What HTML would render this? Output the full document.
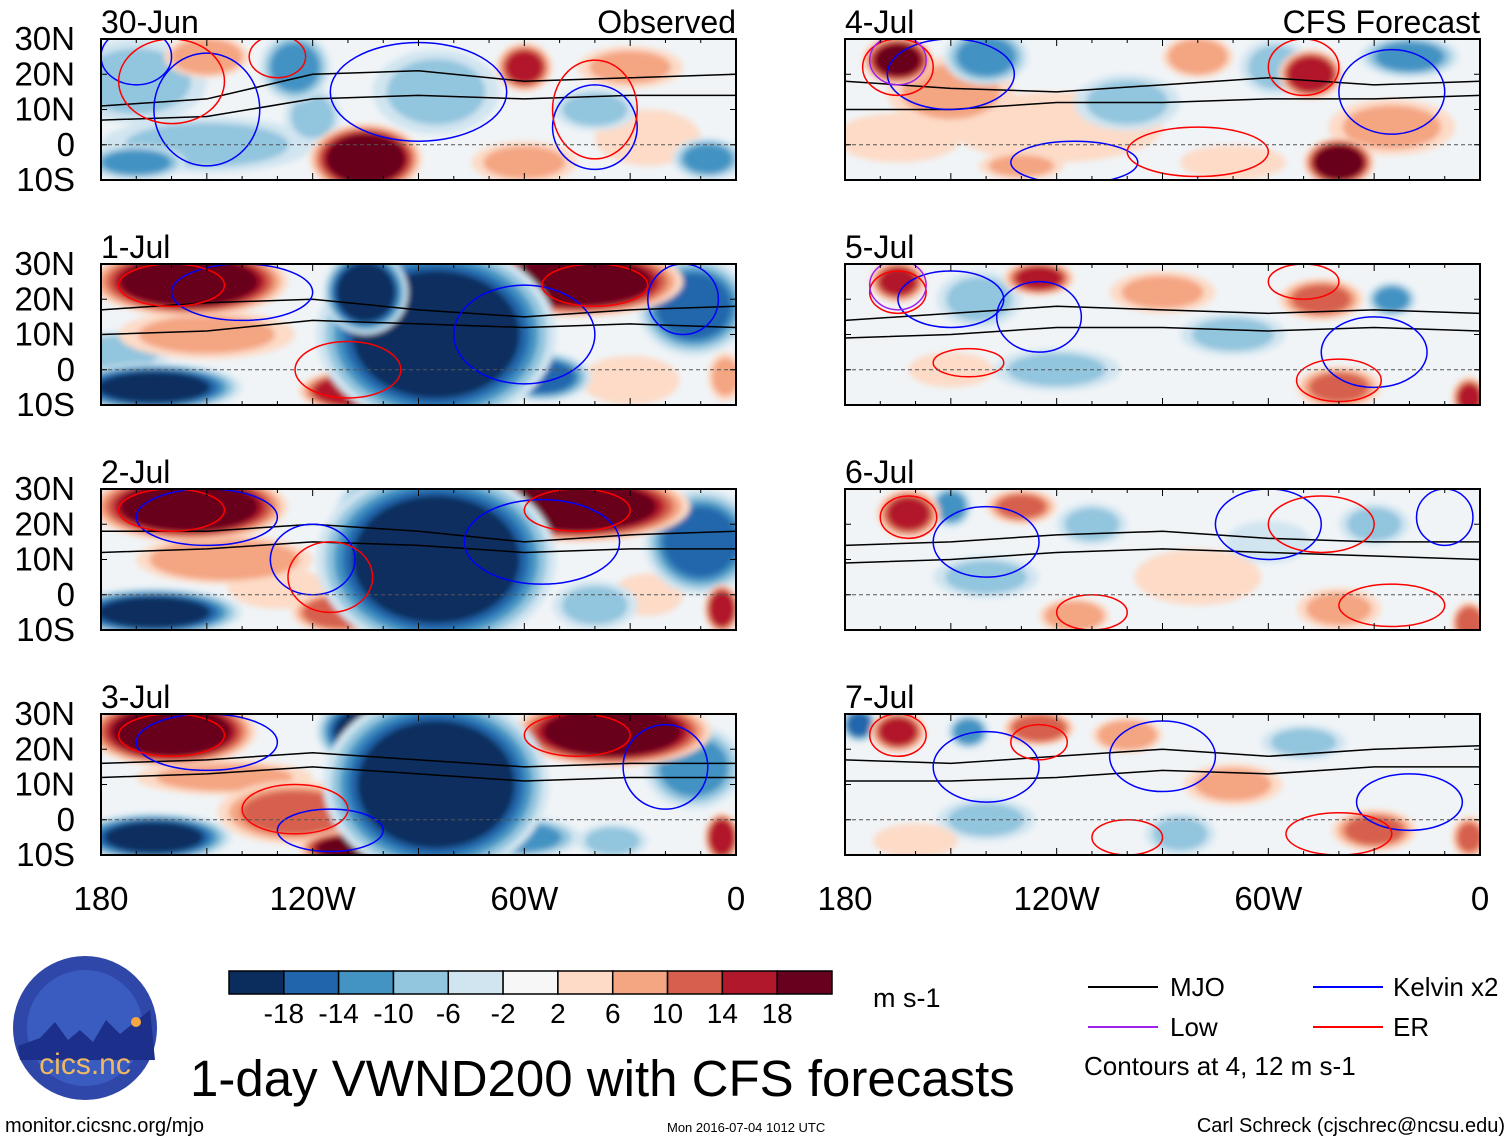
<!DOCTYPE html>
<html><head><meta charset="utf-8">
<style>
body{margin:0;background:#fff;}
svg{display:block;font-family:"Liberation Sans",sans-serif;}
</style></head>
<body>
<svg id="fig" width="1510" height="1142" viewBox="0 0 1510 1142">
<defs>
<filter id="blur" x="-20%" y="-20%" width="140%" height="140%"><feGaussianBlur stdDeviation="3"/></filter>
</defs>
<g id="panels"></g>
<g id="colorbar"></g>
<text x="873" y="1007" font-size="27">m s-1</text>
<g>
<line x1="1088" y1="987" x2="1158" y2="987" stroke="#000" stroke-width="2"/>
<text x="1170" y="996" font-size="26">MJO</text>
<line x1="1313" y1="987" x2="1383" y2="987" stroke="#0000ff" stroke-width="2"/>
<text x="1393" y="996" font-size="26">Kelvin x2</text>
<line x1="1088" y1="1027" x2="1158" y2="1027" stroke="#a020f0" stroke-width="2"/>
<text x="1170" y="1036" font-size="26">Low</text>
<line x1="1313" y1="1027" x2="1383" y2="1027" stroke="#ff0000" stroke-width="2"/>
<text x="1393" y="1036" font-size="26">ER</text>
<text x="1084" y="1075" font-size="26">Contours at 4, 12 m s-1</text>
</g>
<text x="190" y="1096" font-size="51">1-day VWND200 with CFS forecasts</text>
<text x="5" y="1132" font-size="20">monitor.cicsnc.org/mjo</text>
<text x="667" y="1132" font-size="13">Mon 2016-07-04 1012 UTC</text>
<text x="1505" y="1132" font-size="20" text-anchor="end">Carl Schreck (cjschrec@ncsu.edu)</text>
<g>
<circle cx="85" cy="1028" r="72" fill="#2f47a8"/>
<circle cx="85" cy="1028" r="58" fill="#3a5cc0"/>
<path d="M18,1046 L40,1038 L55,1022 L68,1040 L80,1030 L93,1042 L106,1020 L120,1034 L150,1010 L155,1060 L20,1060Z" fill="#1c2f8a"/>
<circle cx="136" cy="1022" r="5" fill="#f5a742"/>
<text x="85" y="1074" font-size="30" fill="#f0b860" text-anchor="middle">cics.nc</text>
</g>
</svg>
<script>
const levels = [-18,-14,-10,-6,-2,2,6,10,14,18];
const colors = ["#0b2d5e","#2166ac","#4393c3","#92c5de","#d1e5f0","#f7f7f7","#fddbc7","#f4a582","#d6604d","#b2182b","#67001f"];
const xTicks = ["180","120W","60W","0"];
const yTicks = ["30N","20N","10N","0","10S"];
const dates = ["30-Jun","1-Jul","2-Jul","3-Jul","4-Jul","5-Jul","6-Jul","7-Jul"];
// blobs: [lonW, lat, rx(deg), ry(deg), value]
const blobs0 = [[170,18,20,12,-8],[150,25,12,6,10],[125,22,10,10,-12],[150,0,30,8,-8],[105,-4,16,10,22],[120,8,8,8,-8],[60,22,8,7,16],[85,15,18,12,-6],[30,22,15,6,8],[25,2,15,8,6],[8,-4,10,6,-10],[170,-5,14,5,-10],[60,-5,15,6,8],[40,10,12,6,-6]];
const blobs1 = [[155,25,28,10,22],[45,25,30,10,22],[85,10,34,26,-22],[105,22,12,12,-22],[165,-5,25,7,-18],[108,-6,16,6,18],[150,10,25,7,8],[12,18,16,14,-16],[30,-3,14,7,6],[3,-2,5,7,8],[55,-2,14,7,-16],[175,5,15,6,-6]];
const blobs2 = [[155,25,28,10,22],[45,25,32,10,22],[85,10,34,26,-22],[100,22,14,12,-20],[165,-5,25,7,-18],[112,-5,14,6,14],[145,10,25,7,10],[10,15,16,15,-16],[4,-4,5,7,18],[40,-3,12,7,-8],[130,2,14,6,6],[25,0,10,6,3]];
const blobs3 = [[160,25,24,10,22],[35,25,28,10,22],[85,10,32,26,-22],[105,25,14,10,-18],[165,-5,22,7,-18],[125,2,22,9,12],[110,-8,14,5,20],[4,-5,5,7,18],[12,15,14,12,-12],[62,-5,18,6,-12],[145,12,25,5,8],[35,-6,10,5,-8]];
const blobs4 = [[165,24,10,7,20],[150,15,18,10,8],[140,25,12,8,-10],[120,5,30,10,6],[80,25,10,6,10],[58,22,10,8,-8],[48,20,9,7,18],[40,-5,10,7,22],[100,12,15,8,-6],[25,5,18,8,8],[165,2,18,7,6],[20,25,14,6,-10],[70,-5,15,5,6],[130,-6,12,4,8]];
const blobs5 = [[165,25,8,6,16],[125,26,10,5,16],[142,20,12,8,-8],[45,20,12,6,12],[40,-5,12,6,12],[25,20,7,5,-12],[90,22,15,6,8],[3,-8,5,6,16],[120,0,18,6,-6],[70,10,15,6,-6],[150,0,12,5,6]];
const blobs6 = [[162,23,9,7,16],[130,25,10,5,12],[150,25,6,6,-10],[110,20,10,6,-8],[30,20,10,6,-6],[115,-6,10,5,9],[3,-8,5,6,14],[40,-4,12,6,8],[80,5,18,8,6],[140,5,15,6,-6],[60,15,12,6,-4]];
const blobs7 = [[176,27,5,5,-16],[165,25,8,6,16],[125,26,10,5,14],[145,25,6,5,-10],[85,-4,10,6,-8],[30,-3,12,6,12],[3,-5,5,6,12],[140,0,14,6,-6],[70,10,14,6,8],[50,22,12,5,-6],[100,24,10,5,10],[160,-6,12,5,6]];
const allBlobs = [blobs0,blobs1,blobs2,blobs3,blobs4,blobs5,blobs6,blobs7];
const mjoA = [[11,13,20,21,18,19,20],[17,19,20,17,15,17,18],[18,18,20,18,15,17,18],[16,17,19,17,15,16,16],[18,16,15,17,19,17,18],[14,16,18,17,16,17,16],[14,15,17,18,16,15,15],[17,16,18,20,18,20,21]];
const mjoB = [[7,8,13,14,13,14,14],[10,11,14,13,12,13,12],[12,13,15,14,12,13,13],[12,13,15,13,11,12,12],[10,10,12,12,13,13,14],[9,10,12,12,11,12,11],[9,10,12,13,12,11,10],[11,11,12,14,13,15,15]];
const kelvin = [[[150,10,15,16],[90,15,25,14],[40,5,12,12],[170,25,10,8]],[[140,22,20,8],[60,10,20,14],[15,20,10,10]],[[150,22,20,8],[120,10,12,10],[55,15,22,12]],[[150,22,20,8],[115,-3,15,6],[20,15,12,12]],[[150,20,18,10],[115,-5,18,6],[25,15,15,12]],[[150,20,15,8],[125,15,12,10],[30,5,15,10]],[[140,15,15,10],[60,20,15,10],[10,22,8,8]],[[140,15,15,10],[90,18,15,10],[20,5,15,8]]];
const er = [[[160,18,15,12],[40,10,12,14],[130,25,8,6]],[[160,24,15,6],[40,24,15,6],[110,0,15,8]],[[160,24,15,6],[45,24,15,6],[115,5,12,10]],[[160,24,15,6],[45,24,15,6],[125,3,15,7]],[[165,22,10,8],[50,22,10,8],[80,-2,20,7]],[[165,22,8,6],[50,25,10,5],[145,2,10,4],[40,-3,12,6]],[[162,22,8,6],[45,20,15,8],[110,-5,10,5],[25,-3,15,6]],[[165,24,8,6],[125,22,8,5],[40,-4,15,6],[100,-5,10,5]]];
const NS="http://www.w3.org/2000/svg";
function mk(tag,attrs,parent){const e=document.createElementNS(NS,tag);for(const k in attrs)e.setAttribute(k,attrs[k]);if(parent)parent.appendChild(e);return e;}
function colorOf(v){let i=0;while(i<levels.length&&v>levels[i])i++;return colors[i];}
const root=document.getElementById('panels');
const cols=[101,845], W=635, H=141, rows=[39,264,489,714];
allBlobs.forEach((bl,p)=>{
  const x0=cols[Math.floor(p/4)], y0=rows[p%4];
  const xS=lon=>x0+(180-lon)/180*W, yS=lat=>y0+(30-lat)/40*H;
  const g=mk('g',{},root);
  
  
  const cid='clip'+p;
  const cp=mk('clipPath',{id:cid},g);mk('rect',{x:x0,y:y0,width:W,height:H},cp);
  const inner=mk('g',{'clip-path':'url(#'+cid+')'},g);
  mk('rect',{x:x0,y:y0,width:W,height:H,fill:'#f0f4f7'},inner);
  const fg=mk('g',{filter:'url(#blur)'},inner);
  const sorted=bl.slice().sort((a,b)=>Math.abs(a[4])-Math.abs(b[4]));
  sorted.forEach(b=>{
    const steps=Math.ceil(Math.abs(b[4])/4);
    for(let s=1;s<=steps;s++){
      const f=1-(s-1)/steps*0.45;
      const v=Math.sign(b[4])*Math.min(Math.abs(b[4]),s*4);
      const e=mk('ellipse',{cx:xS(b[0]),cy:yS(b[1]),rx:b[2]/180*W*f,ry:b[3]/40*H*f,fill:colorOf(v)},fg);
      
      
    }
  });
  const lons=[180,150,120,90,60,30,0];
  [mjoA[p],mjoB[p]].forEach(arr=>{
    const d='M'+arr.map((la,i)=>xS(lons[i])+','+yS(la)).join(' L');
    const l=mk('path',{d:d,fill:'none',stroke:'#000','stroke-width':1.5},inner);
    
    
  });
  kelvin[p].forEach(k=>{const e=mk('ellipse',{cx:xS(k[0]),cy:yS(k[1]),rx:k[2]/180*W,ry:k[3]/40*H,fill:'none',stroke:'#0000ff','stroke-width':1.5},inner);
    
    });
  er[p].forEach(k=>{const e=mk('ellipse',{cx:xS(k[0]),cy:yS(k[1]),rx:k[2]/180*W,ry:k[3]/40*H,fill:'none',stroke:'#ff0000','stroke-width':1.5},inner);
    
    });
  if(p>=4&&p<=5){const e=mk('ellipse',{cx:xS(165),cy:yS(24),rx:W*8/180,ry:H*7/40,fill:'none',stroke:'#a020f0','stroke-width':1.5},inner);
    
    }
  mk('line',{x1:x0,x2:x0+W,y1:yS(0),y2:yS(0),stroke:'#555','stroke-dasharray':'4,3','stroke-width':1},inner);
  mk('rect',{x:x0,y:y0,width:W,height:H,fill:'none',stroke:'#000','stroke-width':2},g);
  for(let lon=180;lon>=0;lon-=10){const x=xS(lon);const len=lon%30==0?7:4;
    mk('line',{x1:x,x2:x,y1:y0,y2:y0+len,stroke:'#000'},g);mk('line',{x1:x,x2:x,y1:y0+H,y2:y0+H-len,stroke:'#000'},g);}
  for(let la=30;la>=-10;la-=10){const y=yS(la);mk('line',{x1:x0,x2:x0+6,y1:y,y2:y,stroke:'#000'},g);mk('line',{x1:x0+W,x2:x0+W-6,y1:y,y2:y,stroke:'#000'},g);}
  const dt=mk('text',{x:x0,y:y0-6,'font-size':32},g);dt.textContent=dates[p];
  
  
  if(p%4==0){const t=mk('text',{x:x0+W,y:y0-6,'font-size':32,'text-anchor':'end'},g);t.textContent=p==0?'Observed':'CFS Forecast';
    
    }
  if(p<4){yTicks.forEach((s,i)=>{const t=mk('text',{x:75,y:yS(30-10*i)+11,'font-size':33,'text-anchor':'end'},g);t.textContent=s;
    
    });}
  if(p%4==3){xTicks.forEach((s,i)=>{const t=mk('text',{x:xS(180-60*i),y:910,'font-size':33,'text-anchor':'middle'},g);t.textContent=s;
    
    });}
});
const cb=document.getElementById('colorbar');
const cbx=229,cbw=603/colors.length;
colors.forEach((c,i)=>{const r=mk('rect',{x:cbx+i*cbw,y:971,width:cbw,height:23,fill:c,stroke:'#000','stroke-width':1.5},cb);
  
  });
levels.forEach((v,i)=>{const t=mk('text',{x:cbx+(i+1)*cbw,y:1023,'font-size':28,'text-anchor':'middle'},cb);t.textContent=v;
  
  });
</script>
</body></html>
